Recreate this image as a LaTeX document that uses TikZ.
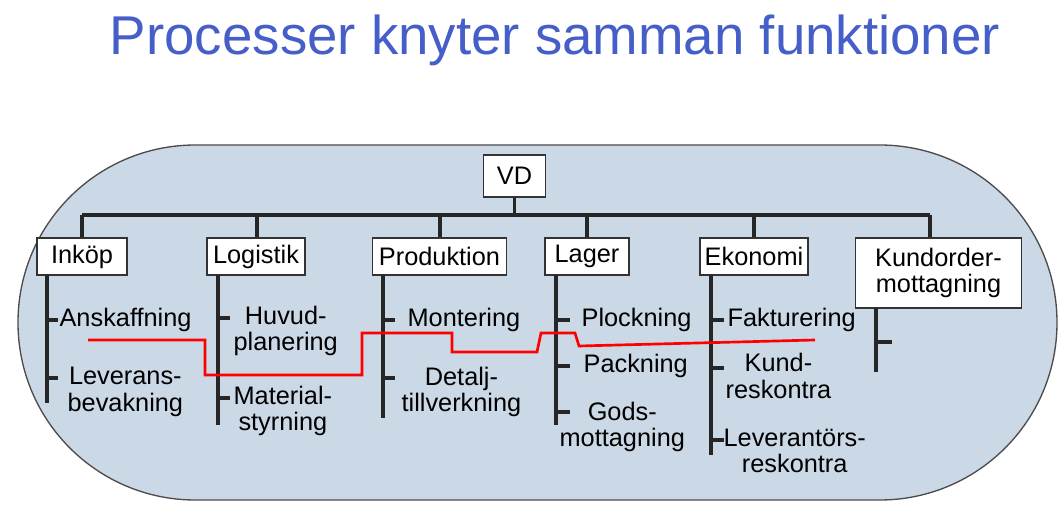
\documentclass[tikz,border=0pt]{standalone}
\usepackage{fontspec}
\setmainfont{Liberation Sans}
\begin{document}
\begin{tikzpicture}[x=0.75pt,y=-0.75pt,
 box/.style={draw=black!80,fill=white,line width=0.8pt,inner sep=0pt,font=\fontsize{19}{20}\selectfont},
 stem/.style={line width=2.6pt,black!85},
 lbl/.style={anchor=west,font=\fontsize{19}{20}\selectfont,align=center,inner sep=1pt}]
\useasboundingbox (0,0) rectangle (1064,524);
\fill[white] (0,0) rectangle (1064,524);
\node[text={rgb,255:red,70;green,95;blue,200},font=\fontsize{41}{44}\selectfont] (title) at (555,40) {Processer knyter samman funktioner};
\draw[fill={rgb,255:red,203;green,216;blue,230},draw=black!70,line width=1pt,rounded corners=133pt] (18,145) rectangle (1057,500);
\node[box,minimum width=47pt,minimum height=31.5pt] (vd) at (514.5,176) {VD};
\coordinate (h0) at (82,215); \coordinate (h1) at (930,215);
\draw[stem] (vd.south) -- (514.5,215);
\draw[stem] (h0) -- (h1);
\foreach \x in {82,257,440,587,754,930} \draw[stem] (\x,215) -- (\x,238);
\node[box,minimum width=67.5pt,minimum height=27.75pt] (ink) at (82,256.5) {Inköp};
\node[box,minimum width=73.5pt,minimum height=27.75pt] (log) at (256,256.5) {Logistik};
\node[box,minimum width=101pt,minimum height=27.75pt] (pro) at (439.5,256.5) {Produktion};
\node[box,minimum width=63pt,minimum height=27.75pt] (lag) at (587,256.5) {Lager};
\node[box,minimum width=81pt,minimum height=27.75pt] (eko) at (754,256.5) {Ekonomi};
\node[box,minimum width=125pt,minimum height=52.5pt,align=center] (kun) at (938.5,273) {Kundorder-\\mottagning};
% stems
\draw[stem] (47,275) -- (47,403); \foreach \y in {320,378} \draw[stem] (47,\y) -- (58,\y);
\draw[stem] (218,275) -- (218,425); \foreach \y in {318,398} \draw[stem] (218,\y) -- (230,\y);
\draw[stem] (383,275) -- (383,418); \foreach \y in {320,378} \draw[stem] (383,\y) -- (395,\y);
\draw[stem] (556,275) -- (556,425); \foreach \y in {320,366,412} \draw[stem] (556,\y) -- (570,\y);
\draw[stem] (711,275) -- (711,455); \foreach \y in {320,368,440} \draw[stem] (711,\y) -- (724,\y);
\draw[stem] (876,308) -- (876,372); \draw[stem] (876,342) -- (892,342);
% labels
\node[lbl] (a1) at (58,320) {Anskaffning};
\node[lbl] (a2) at (66,392) {Leverans-\\bevakning};
\node[lbl] (b1) at (232,331) {Huvud-\\planering};
\node[lbl] (b2) at (232,411) {Material-\\styrning};
\node[lbl] (c1) at (406,320) {Montering};
\node[lbl] (c2) at (400,392) {Detalj-\\tillverkning};
\node[lbl] (d1) at (580,320) {Plockning};
\node[lbl] (d2) at (582,366) {Packning};
\node[lbl] (d3) at (558,427) {Gods-\\mottagning};
\node[lbl] (e1) at (726,320) {Fakturering};
\node[lbl] (e2) at (724,376) {Kund-\\reskontra};
\node[lbl] (e3) at (722,451) {Leverantörs-\\reskontra};
% red process
\draw[red,line width=2pt] (88,340) -- (205,340) -- (205,375) -- (362,375) -- (362,333) -- (452,333) -- (452,352) -- (537,352) -- (541,333) -- (575,333) -- (579,346) -- (815,340);
\end{tikzpicture}
\end{document}
